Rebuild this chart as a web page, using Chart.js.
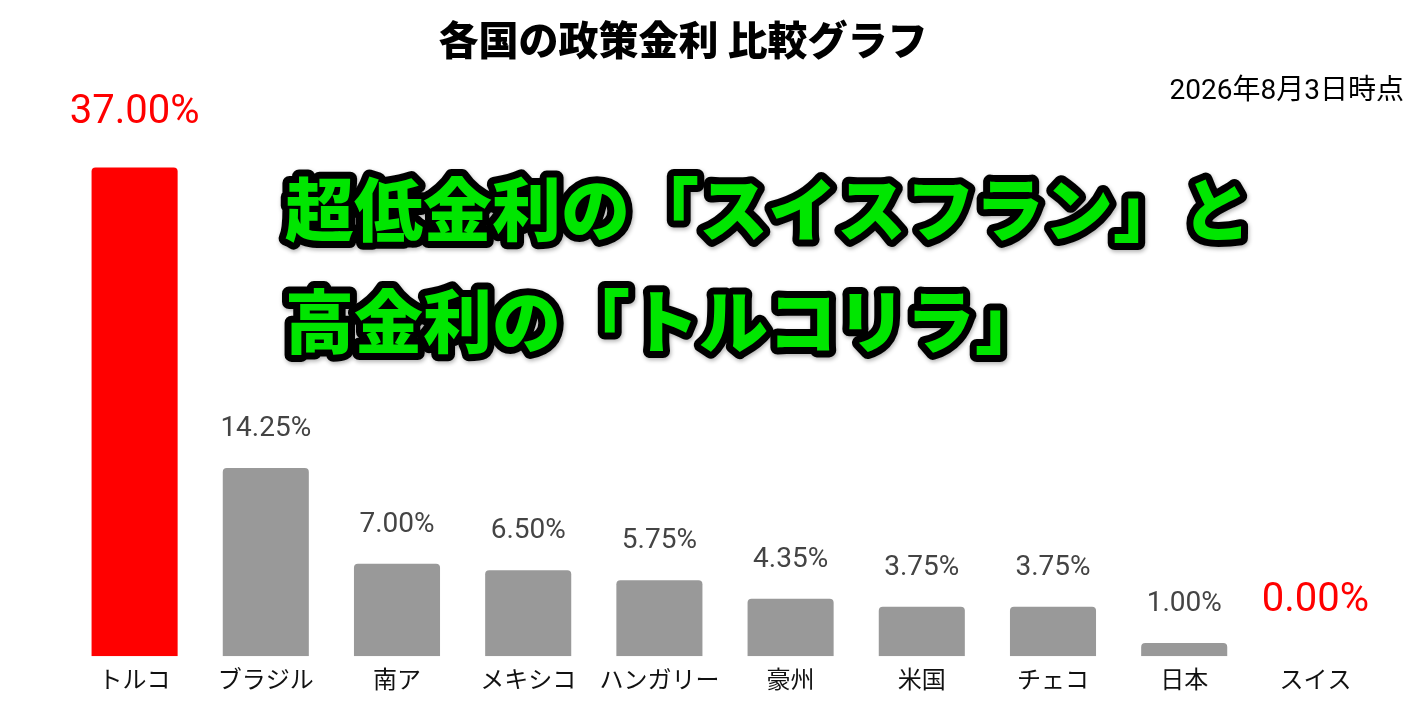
<!DOCTYPE html>
<html lang="ja">
<head>
<meta charset="utf-8">
<title>各国の政策金利 比較グラフ</title>
<script src="https://cdn.jsdelivr.net/npm/chart.js@4.4.1/dist/chart.umd.min.js"></script>
<style>
  html, body { margin: 0; padding: 0; background: #fff; }
  #wrap { width: 1424px; height: 718px; position: relative; }
</style>
</head>
<body>
<div id="wrap"><canvas id="myChart" width="1424" height="718"></canvas></div>
<script>
// 国名と政策金利（%）
var paises = ['トルコ', 'ブラジル', '南ア', 'メキシコ', 'ハンガリー', '豪州', '米国', 'チェコ', '日本', 'スイス'];
var tasas = [37.00, 14.25, 7.00, 6.50, 5.75, 4.35, 3.75, 3.75, 1.00, 0.00];
// 強調する国
var destacados = ['トルコ', 'スイス'];

var titulo = '各国の政策金利 比較グラフ';
var fecha = '2026年8月3日時点';
var mensaje = ['超低金利の「スイスフラン」と', '高金利の「トルコリラ」'];

const ROJO = '#ff0000';
const GRIS = '#999999';
const CJK = "'Noto Sans CJK JP', 'Noto Sans', sans-serif";

function esDestacado(i) {
    return destacados.indexOf(paises[i]) !== -1;
}

// etiquetas de valor sobre cada barra
const etiquetasPlugin = {
    id: 'etiquetas',
    afterDatasetsDraw(chart) {
        const ctx = chart.ctx;
        const meta = chart.getDatasetMeta(0);
        ctx.save();
        ctx.textAlign = 'center';
        ctx.textBaseline = 'alphabetic';
        meta.data.forEach(function (bar, i) {
            const txt = tasas[i].toFixed(2) + '%';
            if (esDestacado(i)) {
                ctx.fillStyle = ROJO;
                ctx.font = "40px Roboto, " + CJK;
                ctx.fillText(txt, bar.x, bar.y - 45);
            } else {
                ctx.fillStyle = '#444444';
                ctx.font = "28px Roboto, " + CJK;
                ctx.fillText(txt, bar.x, bar.y - 32);
            }
        });
        ctx.restore();
    }
};

// titulo, fecha y el texto verde grande
const textosPlugin = {
    id: 'textos',
    afterDraw(chart) {
        const ctx = chart.ctx;
        ctx.save();
        ctx.fillStyle = '#000';
        ctx.textBaseline = 'middle';
        ctx.textAlign = 'center';
        ctx.font = "900 40px " + CJK;
        ctx.fillText(titulo, 683, 40);

        ctx.textAlign = 'right';
        ctx.font = "28px Roboto, " + CJK;
        ctx.fillText(fecha, 1404, 92);

        ctx.textAlign = 'left';
        ctx.font = "900 69px " + CJK;
        ctx.lineJoin = 'round';
        mensaje.forEach(function (linea, k) {
            const y = 210 + k * 112;
            ctx.save();
            ctx.shadowColor = 'rgba(0,0,0,0.3)';
            ctx.shadowBlur = 4;
            ctx.shadowOffsetX = 1;
            ctx.shadowOffsetY = 2;
            ctx.strokeStyle = '#000';
            ctx.lineWidth = 14;
            ctx.strokeText(linea, 285, y);
            ctx.restore();
            ctx.fillStyle = '#00e600';
            ctx.fillText(linea, 285, y);
        });
        ctx.restore();
    }
};

const ctx = document.getElementById('myChart');

var myChart = new Chart(ctx, {
    type: 'bar',
    data: {
        labels: paises,
        datasets: [{
            label: '政策金利',
            data: tasas,
            backgroundColor: function (c) { return esDestacado(c.dataIndex) ? ROJO : GRIS; },
            borderRadius: { topLeft: 4, topRight: 4 },
            borderSkipped: 'bottom',
            categoryPercentage: 0.82,
            barPercentage: 0.8
        }]
    },
    options: {
        responsive: false,
        animation: false,
        layout: { padding: { top: 128, bottom: 17, left: 69, right: 43 } },
        plugins: {
            legend: { display: false },
            tooltip: { enabled: false }
        },
        scales: {
            x: {
                grid: { display: false, drawTicks: false },
                border: { display: false },
                ticks: {
                    color: '#111',
                    padding: 8,
                    font: { size: 24, family: CJK }
                }
            },
            y: {
                display: false,
                min: 0,
                max: 40
            }
        }
    },
    plugins: [etiquetasPlugin, textosPlugin]
});
</script>
</body>
</html>
